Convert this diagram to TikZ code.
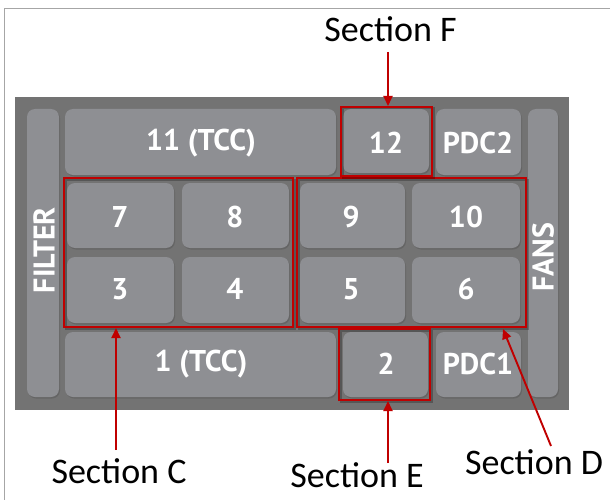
\documentclass[tikz,border=0pt]{standalone}
\usepackage{fontspec}
\setmainfont{Carlito}
\newfontfamily\boxfont{PT Sans}
\usetikzlibrary{shadows,arrows.meta}
\definecolor{panelgray}{HTML}{737373}
\definecolor{cellgray}{HTML}{8E8F93}
\definecolor{framegray}{HTML}{A6A6A6}
\definecolor{markred}{HTML}{C00000}
\tikzset{
  cell/.style={draw=none, fill=cellgray, rounded corners=8pt,
    drop shadow={shadow xshift=1pt, shadow yshift=-1.5pt, opacity=0.35, fill=black!70}},
  celltext/.style={text=white, font=\boxfont\bfseries\fontsize{30}{30}\selectfont},
  section/.style={draw=markred, line width=2pt, inner sep=0pt,
    preaction={draw=black, draw opacity=0.25, line width=2pt,
      transform canvas={shift={(1.5pt,-1.5pt)}}}},
  pointer/.style={draw=markred, line width=1.9pt, -{Triangle[length=10pt,width=9pt]}},
  seclabel/.style={text=black, font=\fontsize{36}{36}\selectfont, anchor=base, inner sep=0pt},
}
\begin{document}
\begin{tikzpicture}[x=1pt, y=-1pt]
\useasboundingbox (0,0) rectangle (610,500);
% page frame
\draw[framegray, line width=1pt] (610,9) -- (4,9) -- (4,500);
% housing
\fill[panelgray] (15,97) rectangle (569,410);
% cells
\path[cell] (27,109) rectangle (59,397);
\path[cell] (528,109) rectangle (558,397);
\path[cell] (65,109) rectangle (336,175);
\path[cell] (343,109) rectangle (429,173);
\path[cell] (436,109) rectangle (521,175);
\path[cell] (67,183) rectangle (174,248);
\path[cell] (182,183) rectangle (289,248);
\path[cell] (300,183) rectangle (405,248);
\path[cell] (412,183) rectangle (520,248);
\path[cell] (67,257) rectangle (174,323);
\path[cell] (182,257) rectangle (289,323);
\path[cell] (300,257) rectangle (405,323);
\path[cell] (412,257) rectangle (520,323);
\path[cell] (65,332) rectangle (336,397);
\path[cell] (343,332) rectangle (428,397);
\path[cell] (436,332) rectangle (521,397);
% cell labels
\node[celltext, rotate=90] (filter) at (44,250) {FILTER};
\node[celltext, rotate=90] (fans) at (543,257) {FANS};
\node[celltext] (c11) at (201,143) {11 (TCC)};
\node[celltext] (c12) at (386,143) {12};
\node[celltext] (pdc2) at (478,143) {PDC2};
\node[celltext] (c7) at (120,217) {7};
\node[celltext] (c8) at (235,217) {8};
\node[celltext] (c9) at (351,217) {9};
\node[celltext] (c10) at (466,217) {10};
\node[celltext] (c3) at (120,289) {3};
\node[celltext] (c4) at (235,289) {4};
\node[celltext] (c5) at (351,289) {5};
\node[celltext] (c6) at (466,289) {6};
\node[celltext] (c1) at (201,364) {1 (TCC)};
\node[celltext] (c2) at (386,364) {2};
\node[celltext] (pdc1) at (478,364) {PDC1};
% section outlines
\node[section, minimum width=229pt, minimum height=149pt] (secC) at (178.5,252.5) {};
\node[section, minimum width=229pt, minimum height=149pt] (secD) at (411.5,252.5) {};
\node[section, minimum width=91pt, minimum height=71pt] (secE) at (384.5,364.5) {};
\node[section, minimum width=91pt, minimum height=69pt] (secF) at (386.5,141.5) {};
% section labels
\node[seclabel] (labF) at (390.5,42) {Section F};
\node[seclabel] (labC) at (119,483) {Section C};
\node[seclabel] (labE) at (357,487) {Section E};
\node[seclabel] (labD) at (534,474) {Section D};
% pointers
\coordinate (fstart) at (388,52);
\coordinate (cstart) at (116,450);
\coordinate (estart) at (388,463);
\coordinate (dstart) at (551,446);
\coordinate (dtip) at (503,329);
\draw[pointer] (fstart) -- (secF.north -| fstart);
\draw[pointer] (cstart) -- (secC.south -| cstart);
\draw[pointer] (estart) -- (secE.south -| estart);
\draw[pointer] (dstart) -- (dtip);
\end{tikzpicture}
\end{document}
